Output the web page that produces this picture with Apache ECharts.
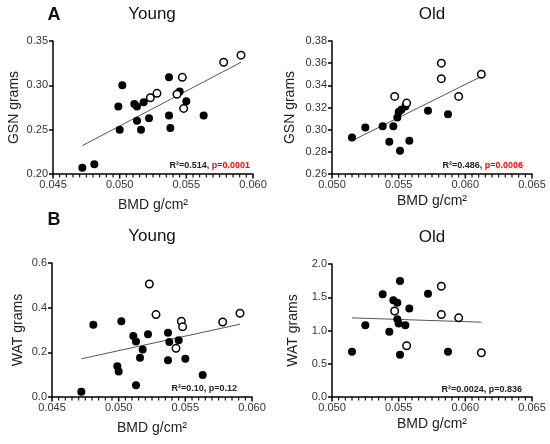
<!DOCTYPE html>
<html>
<head>
<meta charset="utf-8">
<script src="https://cdn.jsdelivr.net/npm/echarts@6/dist/echarts.min.js"></script>
<style>
  html, body { margin: 0; padding: 0; background: #fff; }
  #chart { width: 550px; height: 444px; }
</style>
</head>
<body>
<div id="chart"></div>
<script>
// A: young GSN
const youngGsnFilledX = [0.0472, 0.0481, 0.0499, 0.0500, 0.0502, 0.0511, 0.0513, 0.0513, 0.0516, 0.0518, 0.0522, 0.0537, 0.0537, 0.0538, 0.0545, 0.0550, 0.0563];
const youngGsnFilledY = [0.207, 0.211, 0.276, 0.250, 0.300, 0.279, 0.276, 0.260, 0.250, 0.281, 0.263, 0.309, 0.266, 0.252, 0.293, 0.282, 0.266];
const youngGsnOpenX = [0.0523, 0.0528, 0.0543, 0.0547, 0.0548, 0.0578, 0.0591];
const youngGsnOpenY = [0.286, 0.291, 0.290, 0.309, 0.274, 0.326, 0.334];
const youngGsnFitX = [0.0472, 0.0591];
const youngGsnFitY = [0.232, 0.326];

// A: old GSN
const oldGsnFilledX = [0.0515, 0.0525, 0.0538, 0.0543, 0.0546, 0.0549, 0.0550, 0.0551, 0.0552, 0.0555, 0.0558, 0.0572, 0.0587];
const oldGsnFilledY = [0.293, 0.302, 0.303, 0.289, 0.303, 0.311, 0.316, 0.281, 0.318, 0.321, 0.290, 0.317, 0.314];
const oldGsnOpenX = [0.0547, 0.0556, 0.0582, 0.0582, 0.0595, 0.0612];
const oldGsnOpenY = [0.330, 0.324, 0.360, 0.346, 0.330, 0.350];
const oldGsnFitX = [0.0515, 0.0612];
const oldGsnFitY = [0.290, 0.348];

// B: young WAT
const youngWatFilledX = [0.0472, 0.0481, 0.0499, 0.0500, 0.0502, 0.0511, 0.0513, 0.0513, 0.0516, 0.0518, 0.0522, 0.0537, 0.0537, 0.0538, 0.0545, 0.0550, 0.0563];
const youngWatFilledY = [0.023, 0.323, 0.138, 0.114, 0.339, 0.273, 0.249, 0.053, 0.176, 0.213, 0.281, 0.288, 0.164, 0.246, 0.254, 0.171, 0.098];
const youngWatOpenX = [0.0523, 0.0528, 0.0543, 0.0547, 0.0548, 0.0578, 0.0591];
const youngWatOpenY = [0.506, 0.369, 0.218, 0.339, 0.314, 0.336, 0.375];
const youngWatFitX = [0.0472, 0.0591];
const youngWatFitY = [0.171, 0.326];

// B: old WAT
const oldWatFilledX = [0.0515, 0.0525, 0.0538, 0.0543, 0.0546, 0.0549, 0.0549, 0.0550, 0.0551, 0.0551, 0.0555, 0.0558, 0.0572, 0.0587];
const oldWatFilledY = [0.68, 1.08, 1.545, 0.98, 1.455, 1.419, 1.17, 1.104, 1.745, 0.635, 1.08, 1.329, 1.554, 0.68];
const oldWatOpenX = [0.0547, 0.0556, 0.0582, 0.0582, 0.0595, 0.0612];
const oldWatOpenY = [1.294, 0.77, 1.665, 1.24, 1.19, 0.665];
const oldWatFitX = [0.0515, 0.0612];
const oldWatFitY = [1.19, 1.125];

const stats = ['R²=0.514, ', 'p=0.0001', 'R²=0.486, ', 'p=0.0006', 'R²=0.10, p=0.12', 'R²=0.0024, p=0.836'];

const FONT = 'Liberation Sans, Arial, sans-serif';

const zip = (xs, ys) => xs.map((x, i) => [x, ys[i]]);

const chart = echarts.init(document.getElementById('chart'));

function xAxisFor(gi, min, max, gap) {
    return {
        gridIndex: gi, type: 'value', min: min, max: max, interval: 0.005,
        name: 'BMD g/cm²', nameLocation: 'middle', nameGap: gap,
        nameTextStyle: { fontSize: 14, color: '#222', fontFamily: FONT },
        axisLine: { show: true, onZero: false, lineStyle: { color: '#000', width: 1.5 } },
        axisTick: { show: false },
        axisLabel: { fontSize: 11, color: '#333', fontFamily: FONT, margin: 5, formatter: v => v.toFixed(3) },
        splitLine: { show: false }
    };
}

function yAxisFor(gi, min, max, step, digits, name, gap) {
    return {
        gridIndex: gi, type: 'value', min: min, max: max, interval: step,
        name: name, nameLocation: 'middle', nameGap: gap,
        nameTextStyle: { fontSize: 14, color: '#222', fontFamily: FONT },
        axisLine: { show: true, onZero: false, lineStyle: { color: '#000', width: 1.5 } },
        axisTick: { show: true, length: 4, lineStyle: { color: '#000', width: 1.5 } },
        axisLabel: { fontSize: 11, color: '#333', fontFamily: FONT, margin: 5, formatter: v => v.toFixed(digits) },
        splitLine: { show: false }
    };
}

// x ticks every 0.0005 (GraphPad comb), a longer one every 0.005
function tickSeries(gi, xMin, xMax, yMin) {
    const ticks = [];
    const n = Math.round((xMax - xMin) / 0.0005);
    for (let k = 0; k <= n; k++) ticks.push([+(xMin + k * 0.0005).toFixed(5), yMin]);
    return {
        type: 'custom', xAxisIndex: gi, yAxisIndex: gi, data: ticks, clip: false, silent: true, z: 5,
        renderItem: (params, api) => {
            const p = api.coord([api.value(0), api.value(1)]);
            const major = params.dataIndex % 10 === 0;
            return {
                type: 'line',
                shape: { x1: p[0], y1: p[1], x2: p[0], y2: p[1] + (major ? 4.5 : 3.5) },
                style: { stroke: '#000', lineWidth: major ? 1.5 : 1.1 }
            };
        }
    };
}

function panelSeries(gi, fx, fy, ox, oy, lx, ly) {
    return [
        {
            type: 'line', xAxisIndex: gi, yAxisIndex: gi, data: zip(lx, ly),
            showSymbol: false, silent: true, z: 1,
            lineStyle: { color: '#555', width: 1 }
        },
        {
            type: 'scatter', xAxisIndex: gi, yAxisIndex: gi, data: zip(fx, fy),
            symbolSize: 8, z: 3, itemStyle: { color: '#000', opacity: 1 }
        },
        {
            type: 'scatter', xAxisIndex: gi, yAxisIndex: gi, data: zip(ox, oy),
            symbolSize: 7.5, z: 3, itemStyle: { color: '#fff', borderColor: '#000', borderWidth: 1.5, opacity: 1 }
        }
    ];
}

// panel titles and letters as title components
function heading(text, cx, top, size, bold) {
    return {
        text: text, left: cx, top: top, textAlign: 'center', padding: 0,
        textStyle: { fontSize: size, fontWeight: bold ? 'bold' : 'normal', color: '#111', fontFamily: FONT }
    };
}

function statTitle(rightX, top, text) {
    return {
        text: text, left: rightX, top: top, textAlign: 'right', padding: 0,
        textStyle: {
            fontSize: 9, fontWeight: 'bold', color: '#222', fontFamily: FONT,
            rich: {
                k: { fontSize: 9, fontWeight: 'bold', color: '#222', fontFamily: FONT },
                r: { fontSize: 9, fontWeight: 'bold', color: '#ff0000', fontFamily: FONT }
            }
        }
    };
}

const option = {
    animation: false,
    backgroundColor: '#fff',
    title: [
        heading('A', 54, 6, 18, true),
        heading('Young', 152, 6, 17, false),
        heading('Old', 432, 6, 17, false),
        heading('B', 54, 211, 18, true),
        heading('Young', 152, 228, 17, false),
        heading('Old', 432, 229, 17, false),
        statTitle(250, 161, '{k|' + stats[0] + '}{r|' + stats[1] + '}'),
        statTitle(523, 161, '{k|' + stats[2] + '}{r|' + stats[3] + '}'),
        statTitle(237, 384, '{k|' + stats[4] + '}'),
        statTitle(522, 385, '{k|' + stats[5] + '}')
    ],
    grid: [
        { left: 53, top: 41, width: 200, height: 133 },
        { left: 332, top: 41, width: 200, height: 133 },
        { left: 52, top: 263, width: 200, height: 134 },
        { left: 332, top: 264, width: 200, height: 133 }
    ],
    xAxis: [
        xAxisFor(0, 0.045, 0.060, 24),
        xAxisFor(1, 0.050, 0.065, 20),
        xAxisFor(2, 0.045, 0.060, 24),
        xAxisFor(3, 0.050, 0.065, 20)
    ],
    yAxis: [
        yAxisFor(0, 0.20, 0.35, 0.05, 2, 'GSN grams', 32),
        yAxisFor(1, 0.26, 0.38, 0.02, 2, 'GSN grams', 35),
        yAxisFor(2, 0, 0.6, 0.2, 1, 'WAT grams', 27),
        yAxisFor(3, 0, 2.0, 0.5, 1, 'WAT grams', 32)
    ],
    series: [].concat(
        panelSeries(0, youngGsnFilledX, youngGsnFilledY, youngGsnOpenX, youngGsnOpenY, youngGsnFitX, youngGsnFitY),
        panelSeries(1, oldGsnFilledX, oldGsnFilledY, oldGsnOpenX, oldGsnOpenY, oldGsnFitX, oldGsnFitY),
        panelSeries(2, youngWatFilledX, youngWatFilledY, youngWatOpenX, youngWatOpenY, youngWatFitX, youngWatFitY),
        panelSeries(3, oldWatFilledX, oldWatFilledY, oldWatOpenX, oldWatOpenY, oldWatFitX, oldWatFitY),
        [
            tickSeries(0, 0.045, 0.060, 0.20),
            tickSeries(1, 0.050, 0.065, 0.26),
            tickSeries(2, 0.045, 0.060, 0),
            tickSeries(3, 0.050, 0.065, 0)
        ]
    )
};

chart.setOption(option);
</script>
</body>
</html>
